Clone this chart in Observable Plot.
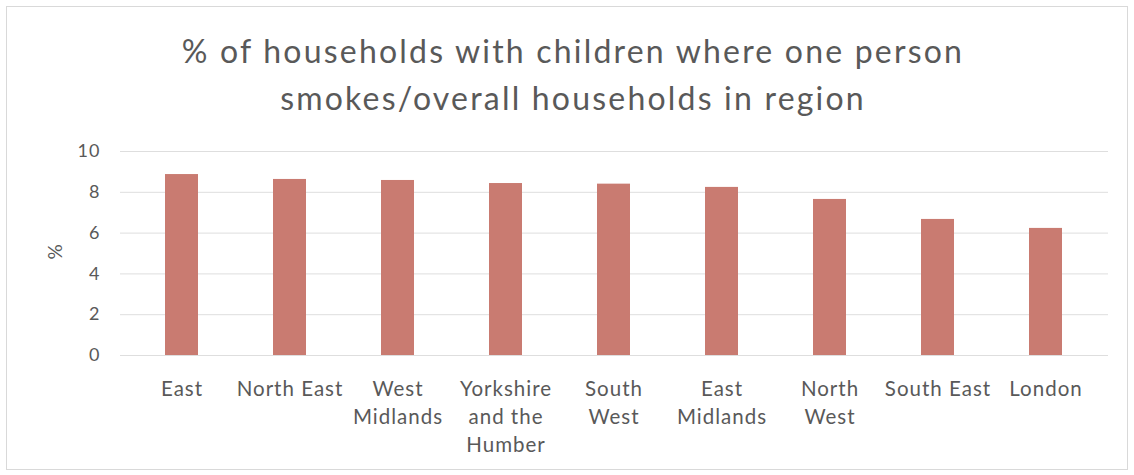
<!DOCTYPE html>
<html><head><meta charset="utf-8">
<script src="https://cdn.jsdelivr.net/npm/d3@7"></script>
<script src="https://cdn.jsdelivr.net/npm/@observablehq/plot@0.6"></script>
<style>
body{margin:0;background:#fff;font-family:Lato,"Open Sans",sans-serif;}
#frame{position:absolute;left:6px;top:6px;width:1122px;height:464px;border:1px solid #d9d9d9;box-sizing:border-box;}
#title{position:absolute;left:0;top:27px;width:1146px;text-align:center;color:#595959;font-size:32px;line-height:47px;letter-spacing:2.2px;font-family:Lato,sans-serif;}
#chart{position:absolute;left:0;top:130px;}
#chart svg text{letter-spacing:1px;}
</style></head>
<body>
<div id="frame"></div>
<div id="title">% of households with children where one person<br>smokes/overall households in region</div>
<div id="chart"></div>
<script>
const regions = ["East","North East","West Midlands","Yorkshire and the Humber","South West","East Midlands","North West","South East","London"];
const tickLabels = ["East","North East","West\nMidlands","Yorkshire\nand the\nHumber","South\nWest","East\nMidlands","North\nWest","South East","London"];
const values = [8.87,8.63,8.58,8.43,8.4,8.24,7.65,6.67,6.23];
const yTicks = [0,2,4,6,8,10];

const data = regions.map((r,i)=>({region:r, value:values[i]}));
const labelOf = new Map(regions.map((r,i)=>[r,tickLabels[i]]));

const plot = Plot.plot({
  width:1134, height:345,
  marginTop:21, marginBottom:120, marginLeft:120, marginRight:26,
  style:{fontFamily:"Lato, sans-serif", color:"#595959", background:"transparent"},
  x:{domain:regions, paddingInner:0.69, paddingOuter:0.38},
  y:{domain:[0,10]},
  marks:[
    Plot.gridY(yTicks,{stroke:"#dedede", strokeOpacity:1, strokeWidth:1}),
    Plot.barY(data,{x:"region", y:"value", fill:"#c97b71"}),
    Plot.axisX({tickSize:0, tickPadding:20, fontSize:20.5, lineHeight:1.38, tickFormat:d=>labelOf.get(d), fill:"#595959", label:null}),
    Plot.axisY(yTicks,{tickSize:0, tickPadding:20, fontSize:18, fill:"#595959", label:null}),
    Plot.text(["%"],{frameAnchor:"left", dx:-65, dy:6, rotate:-90, fontSize:19, fill:"#595959", text:d=>d})
  ]
});
document.getElementById("chart").appendChild(plot);
</script>
</body></html>
